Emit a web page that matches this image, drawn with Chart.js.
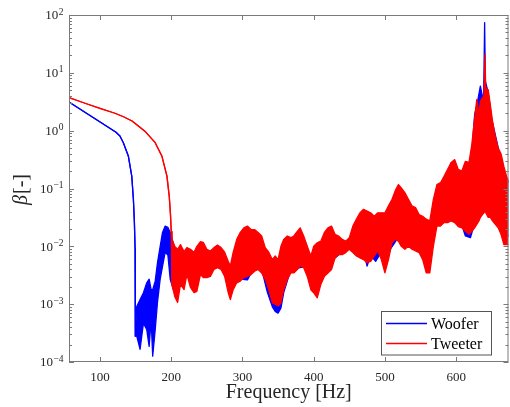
<!DOCTYPE html>
<html>
<head>
<meta charset="utf-8">
<script src="https://cdn.jsdelivr.net/npm/chart.js@4.4.0/dist/chart.umd.min.js"></script>
<style>
  html, body { margin: 0; padding: 0; background: #fff; }
  #wrap { width: 510px; height: 407px; }
</style>
</head>
<body>
<div id="wrap"><canvas id="chart"></canvas></div>
<script>
// tick labels
const xTickValues = [100, 200, 300, 400, 500, 600];
const yTickExponents = [-4, -3, -2, -1, 0, 1, 2];

// Woofer: smooth roll-off, then the noisy part as an upper / lower envelope
const wooferSmoothFreq = [56.5, 122, 128, 132.8, 139.9, 144.6, 146.9, 148.3, 149.3, 149.6];
const wooferSmoothBeta = [3.13, 0.946, 0.81, 0.62, 0.36, 0.164, 0.065, 0.026, 0.009, 2.8e-4];

const wooferNoiseFreq = [
  151.6, 156.3, 161, 165.7, 169, 171.8, 174, 177.5, 180.7, 184.5,
  187.8, 191.5, 195.3, 198.6, 203, 210, 240, 270, 281, 292,
  300, 307, 315, 327, 335, 342, 346, 350, 354, 358,
  368, 390, 400, 420, 440, 450, 470, 475, 480, 487,
  495, 505, 520, 545, 560, 575, 593, 605, 613, 620,
  626, 630, 634, 638.5, 640, 641, 645, 650, 660, 667,
  674
];
const wooferNoiseHigh = [
  9.1e-4, 1.2e-3, 1.58e-3, 2.34e-3, 2.7e-3, 1.78e-3, 1.78e-3, 2.5e-3, 5.2e-3, 1.0e-2,
  1.74e-2, 2.24e-2, 2.14e-2, 1.74e-2, 1.12e-2, 4.5e-3, 5e-3, 6e-3, 3.5e-3, 6e-3,
  8e-3, 8e-3, 8e-3, 7e-3, 4.5e-3, 3.5e-3, 3.5e-3, 3.5e-3, 5e-3, 6e-3,
  7e-3, 6e-3, 4e-3, 8e-3, 1.0e-2, 1.1e-2, 1.5e-2, 1.5e-2, 1.5e-2, 1.5e-2,
  1.5e-2, 1.8e-2, 4e-2, 3e-2, 1.8e-2, 5e-2, 0.28, 0.15, 0.15, 0.2,
  1.91, 3.16, 5.9, 3.16, 74, 7.2, 4.57, 1.58, 0.45, 0.2,
  0.126
];
const wooferNoiseLow = [
  2.8e-4, 1.66e-4, 4.7e-4, 3.6e-4, 1.86e-4, 5.4e-4, 1.26e-4, 3.6e-4, 1.07e-3, 2.7e-3,
  4.5e-3, 7.9e-3, 7.1e-3, 2.7e-3, 1.78e-3, 3.5e-3, 4e-3, 4.5e-3, 2.8e-3, 4e-3,
  2.69e-3, 2.63e-3, 4e-3, 4e-3, 1.6e-3, 9e-4, 7.5e-4, 7e-4, 8.5e-4, 1.6e-3,
  4e-3, 4.5e-3, 3e-3, 5e-3, 8e-3, 9.5e-3, 8e-3, 4.57e-3, 7e-3, 5.5e-3,
  8e-3, 8e-3, 1.5e-2, 1.2e-2, 8e-3, 3e-2, 3.5e-2, 3e-2, 1.51e-2, 1.41e-2,
  2.5e-2, 3e-2, 3.5e-2, 4e-2, 4.5e-2, 4.5e-2, 4e-2, 3.5e-2, 3e-2, 1.6e-2,
  1.5e-2
];

// Tweeter
const tweeterSmoothFreq = [56.5, 80, 100, 121, 133, 145, 153, 163, 177.5, 187, 194, 197.2, 199, 200];
const tweeterSmoothBeta = [3.72, 2.95, 2.44, 2.0, 1.74, 1.47, 1.23, 0.98, 0.62, 0.36, 0.164, 0.074, 0.035, 0.018];

const tweeterNoiseFreq = [
  201, 205, 209, 213, 218, 222, 227, 232, 236, 241,
  245, 250, 255, 260, 265, 270, 275, 280, 283, 287,
  292, 297, 302, 307, 312, 317, 322, 327, 332, 337,
  342, 346, 350, 354, 358, 363, 368, 372, 377, 381,
  386, 391, 396, 400, 405, 410, 415, 420, 425, 430,
  435, 440, 445, 450, 455, 460, 465, 470, 475, 480,
  485, 490, 495, 500, 505, 510, 515, 519, 523, 528,
  533, 538, 543, 548, 553, 558, 563, 568, 573, 578,
  583, 588, 593, 598, 603, 608, 613, 618, 622, 626,
  629, 632, 634, 637, 639, 640.5, 641.5, 645, 648, 651,
  655, 659, 663, 667, 671, 674
];
const tweeterNoiseHigh = [
  1.32e-2, 1.0e-2, 8.9e-3, 1.07e-2, 8.1e-3, 9.5e-3, 8.9e-3, 7.9e-3, 1.0e-2, 1.2e-2,
  1.17e-2, 8.9e-3, 8.3e-3, 9.5e-3, 1.05e-2, 9.5e-3, 7.9e-3, 5.5e-3, 4.57e-3, 7.9e-3,
  1.32e-2, 1.74e-2, 2.09e-2, 2.24e-2, 1.95e-2, 1.95e-2, 1.74e-2, 1.51e-2, 9.5e-3, 7.9e-3,
  5.9e-3, 6.8e-3, 5.9e-3, 1.0e-2, 1.32e-2, 1.51e-2, 1.41e-2, 1.51e-2, 1.82e-2, 2.09e-2,
  1.51e-2, 1.0e-2, 6.8e-3, 1.0e-2, 1.15e-2, 1.23e-2, 1.74e-2, 2.09e-2, 2.24e-2, 1.62e-2,
  1.51e-2, 1.32e-2, 1.23e-2, 1.41e-2, 2.24e-2, 2.95e-2, 3.8e-2, 4.37e-2, 4.07e-2, 3.8e-2,
  3.31e-2, 3.8e-2, 3.8e-2, 3.8e-2, 5.0e-2, 6.5e-2, 9.5e-2, 0.117, 0.102, 8.5e-2,
  6.5e-2, 5.0e-2, 4.68e-2, 3.55e-2, 3.31e-2, 2.95e-2, 2.75e-2, 6.5e-2, 0.117, 0.126,
  0.162, 0.214, 0.282, 0.316, 0.214, 0.2, 0.295, 0.282, 0.575, 1.66,
  3.47, 1.91, 3.24, 3.72, 3.98, 20.9, 5.5, 5.1, 2.82, 1.48,
  0.79, 0.5, 0.4, 0.24, 0.158, 0.135
];
const tweeterNoiseLow = [
  2.19e-3, 1.35e-3, 1.07e-3, 2.19e-3, 1.78e-3, 3.24e-3, 1.95e-3, 1.58e-3, 1.66e-3, 3.24e-3,
  2.88e-3, 2.88e-3, 3.02e-3, 3.98e-3, 4.27e-3, 3.98e-3, 3.02e-3, 1.58e-3, 1.2e-3, 1.78e-3,
  2.34e-3, 2.51e-3, 2.88e-3, 3.02e-3, 3.24e-3, 3.72e-3, 3.98e-3, 3.47e-3, 2.69e-3, 1.78e-3,
  1.05e-3, 1.0e-3, 9.3e-4, 1.05e-3, 1.78e-3, 2.69e-3, 3.47e-3, 3.47e-3, 3.98e-3, 4.57e-3,
  4.27e-3, 3.02e-3, 1.78e-3, 1.58e-3, 1.29e-3, 2.19e-3, 3.02e-3, 3.47e-3, 3.98e-3, 6.3e-3,
  7.2e-3, 7.2e-3, 7.8e-3, 8.9e-3, 7.8e-3, 6.8e-3, 6.3e-3, 5.9e-3, 5.2e-3, 5.5e-3,
  6.8e-3, 8.3e-3, 5.9e-3, 3.47e-3, 5.9e-3, 1.15e-2, 1.32e-2, 1.23e-2, 1.0e-2, 8.9e-3,
  1.0e-2, 8.9e-3, 8.3e-3, 7.8e-3, 5.9e-3, 3.47e-3, 3.47e-3, 1.0e-2, 2.24e-2, 2.24e-2,
  2.57e-2, 2.57e-2, 2.75e-2, 2.57e-2, 2.19e-2, 2.09e-2, 1.82e-2, 1.62e-2, 1.82e-2, 2.09e-2,
  2.4e-2, 2.75e-2, 3.16e-2, 3.55e-2, 3.8e-2, 4.07e-2, 3.8e-2, 3.16e-2, 3.16e-2, 2.75e-2,
  2.4e-2, 2.09e-2, 1.62e-2, 1.07e-2, 1.07e-2, 1.07e-2
];

const BLUE = "#0000ff";
const RED = "#ff0000";
const AXIS = "#7a7a7a";
const TEXT = "#262626";
const SERIF = "'Liberation Serif', 'Times New Roman', serif";

const toPoints = (xs, ys) => xs.map((x, i) => ({ x: x, y: ys[i] }));

const wooferUpper = toPoints(wooferSmoothFreq.concat(wooferNoiseFreq), wooferSmoothBeta.concat(wooferNoiseHigh));
const wooferLower = toPoints(wooferSmoothFreq.concat(wooferNoiseFreq), wooferSmoothBeta.concat(wooferNoiseLow));
const tweeterUpper = toPoints(tweeterSmoothFreq.concat(tweeterNoiseFreq), tweeterSmoothBeta.concat(tweeterNoiseHigh));
const tweeterLower = toPoints(tweeterSmoothFreq.concat(tweeterNoiseFreq), tweeterSmoothBeta.concat(tweeterNoiseLow));

// box, inward ticks, y labels with exponents, y title and legend
const matlabAxes = {
  id: "matlabAxes",
  afterDraw(chart) {
    const { ctx, chartArea: a } = chart;
    const xs = chart.scales.x, ys = chart.scales.y;
    ctx.save();
    ctx.strokeStyle = AXIS;
    ctx.lineWidth = 1;
    ctx.beginPath();
    xTickValues.forEach((v) => {
      const px = Math.round(xs.getPixelForValue(v)) + 0.5;
      ctx.moveTo(px, a.bottom); ctx.lineTo(px, a.bottom - 5);
      ctx.moveTo(px, a.top); ctx.lineTo(px, a.top + 5);
    });
    yTickExponents.forEach((e, i) => {
      const py = Math.round(ys.getPixelForValue(Math.pow(10, e))) + 0.5;
      ctx.moveTo(a.left, py); ctx.lineTo(a.left + 5, py);
      ctx.moveTo(a.right, py); ctx.lineTo(a.right - 5, py);
      if (i < yTickExponents.length - 1) {
        for (let k = 2; k <= 9; k++) {
          const pm = Math.round(ys.getPixelForValue(k * Math.pow(10, e))) + 0.5;
          ctx.moveTo(a.left, pm); ctx.lineTo(a.left + 3, pm);
          ctx.moveTo(a.right, pm); ctx.lineTo(a.right - 3, pm);
        }
      }
    });
    ctx.stroke();
    ctx.strokeRect(a.left + 0.5, a.top + 0.5, a.right - a.left - 1, a.bottom - a.top - 1);

    // y tick labels 10^n
    ctx.fillStyle = TEXT;
    ctx.textAlign = "right";
    ctx.textBaseline = "alphabetic";
    yTickExponents.forEach((e) => {
      const py = ys.getPixelForValue(Math.pow(10, e));
      const exp = e < 0 ? "\u2212" + Math.abs(e) : String(e);
      ctx.font = "9.5px " + SERIF;
      const ew = ctx.measureText(exp).width;
      ctx.fillText(exp, 63.5, py - 0.5);
      ctx.font = "13px " + SERIF;
      ctx.fillText("10", 63.5 - ew - 0.5, py + 4.3);
    });

    // y title: italic beta + [-]
    ctx.save();
    ctx.translate(27, 190);
    ctx.rotate(-Math.PI / 2);
    ctx.textAlign = "left";
    ctx.font = "italic 20px " + SERIF;
    const bw = ctx.measureText("\u03b2").width;
    ctx.font = "20px " + SERIF;
    const rw = ctx.measureText("[-]").width;
    const x0 = -(bw + rw) / 2;
    ctx.font = "italic 20px " + SERIF;
    ctx.fillText("\u03b2", x0, 0);
    ctx.font = "20px " + SERIF;
    ctx.fillText("[-]", x0 + bw + 1, 0);
    ctx.restore();

    // legend inside the axes, lower right
    const entries = chart.data.datasets.filter((d) => d.inLegend);
    const lx = 381.5, ly = 311.5, lw = 110, lh = 43.5;
    ctx.fillStyle = "#ffffff";
    ctx.fillRect(lx, ly, lw, lh);
    ctx.strokeStyle = "#555555";
    ctx.strokeRect(lx, ly, lw, lh);
    ctx.font = "16px " + SERIF;
    ctx.textAlign = "left";
    ctx.textBaseline = "middle";
    entries.forEach((d, i) => {
      const yy = 323.5 + i * 20;
      ctx.strokeStyle = d.borderColor;
      ctx.lineWidth = 1.5;
      ctx.beginPath();
      ctx.moveTo(386, yy); ctx.lineTo(427, yy);
      ctx.stroke();
      ctx.fillStyle = "#000000";
      ctx.fillText(d.label, 431, yy + 1);
    });
    ctx.restore();
  }
};

const lineStyle = { borderWidth: 1.3, pointRadius: 0, tension: 0, borderJoinStyle: "round" };

new Chart(document.getElementById("chart"), {
  type: "line",
  plugins: [matlabAxes],
  data: {
    datasets: [
      { label: "Woofer", inLegend: true, data: wooferUpper, borderColor: BLUE, backgroundColor: BLUE, fill: "+1", order: 2, ...lineStyle },
      { label: "Woofer low", data: wooferLower, borderColor: BLUE, backgroundColor: BLUE, fill: false, order: 2, ...lineStyle },
      { label: "Tweeter", inLegend: true, data: tweeterUpper, borderColor: RED, backgroundColor: RED, fill: "+1", order: 1, ...lineStyle },
      { label: "Tweeter low", data: tweeterLower, borderColor: RED, backgroundColor: RED, fill: false, order: 1, ...lineStyle },
    ],
  },
  options: {
    responsive: true,
    maintainAspectRatio: false,
    animation: false,
    events: [],
    layout: { padding: { top: 15, right: 1.5, left: 0, bottom: 0 } },
    plugins: {
      legend: { display: false },
      tooltip: { enabled: false },
    },
    scales: {
      x: {
        type: "linear",
        min: 56.5,
        max: 673.5,
        grid: { display: false, drawTicks: false },
        border: { display: false },
        ticks: {
          stepSize: 100,
          includeBounds: false,
          autoSkip: false,
          maxRotation: 0,
          padding: 8,
          color: TEXT,
          font: { family: SERIF, size: 13 },
        },
        title: {
          display: true,
          text: "Frequency [Hz]",
          color: TEXT,
          font: { family: SERIF, size: 20 },
          padding: { top: 0, bottom: 2 },
        },
        afterFit: (scale) => { scale.height = 45; },
      },
      y: {
        type: "logarithmic",
        min: 1e-4,
        max: 1e2,
        grid: { display: false, drawTicks: false },
        border: { display: false },
        ticks: { display: false },
        afterFit: (scale) => { scale.width = 69; },
      },
    },
  },
});
</script>
</body>
</html>
